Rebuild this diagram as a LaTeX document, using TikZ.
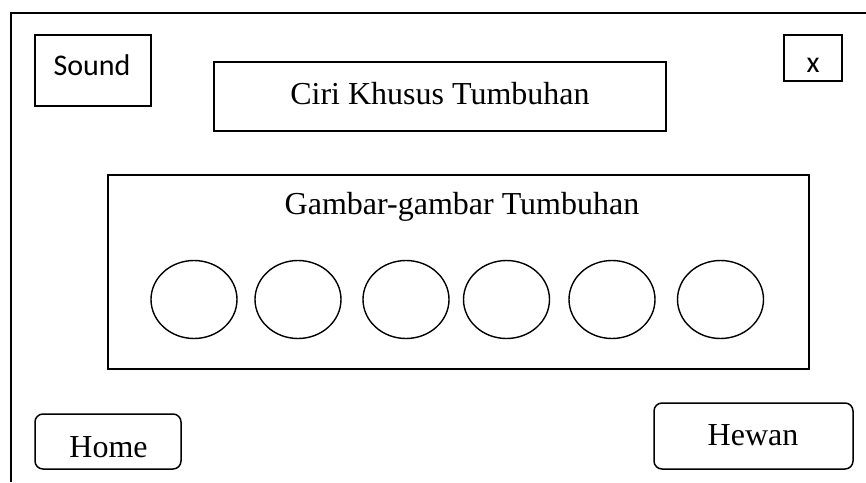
\documentclass[tikz,border=0pt]{standalone}
\usepackage{fontspec}
\setmainfont{Liberation Serif}
\newfontfamily\calib{Carlito}
\usetikzlibrary{shapes.geometric}
\tikzset{
  frame/.style={draw, line width=1.5pt},
  box/.style={draw, line width=1.5pt, rectangle, inner sep=0pt},
  button/.style={box, rounded corners=8pt},
  pic/.style={draw, line width=1.4pt, ellipse, inner sep=0pt,
              minimum width=86pt, minimum height=78pt},
  serif/.style={anchor=base, inner sep=0pt, font=\fontsize{32}{36}\selectfont},
  sans/.style={anchor=base, inner sep=0pt, font=\calib\fontsize{30}{34}\selectfont},
}
\begin{document}
\begin{tikzpicture}[x=1pt,y=-1pt]
\useasboundingbox (0,0) rectangle (866,482);
% outer window edge (top and left only)
\coordinate (tr) at (866,13);
\coordinate (tl) at (11,13);
\coordinate (bl) at (11,482);
\draw[frame] (tr) -- (tl) -- (bl);

% top bar
\node[box, minimum width=116pt, minimum height=71pt] (sound) at (93,70.5) {};
\node[sans] (soundtxt) at (92,75) {Sound};
\node[box, minimum width=58pt, minimum height=46pt] (close) at (813,58) {};
\node[sans] (closetxt) at (813,72) {x};
\node[box, minimum width=452pt, minimum height=69pt] (title) at (440,96.5) {};
\node[serif] (titletxt) at (440,104) {Ciri Khusus Tumbuhan};

% picture panel
\node[box, minimum width=701pt, minimum height=194pt] (panel) at (458.5,272) {};
\node[serif] (paneltxt) at (462,214) {Gambar-gambar Tumbuhan};
\foreach \i/\x in {1/194,2/298,3/406,4/506.5,5/612,6/720.5}
  \node[pic] (p\i) at (\x,299.5) {};

% navigation buttons
\node[button, minimum width=146pt, minimum height=55pt] (home) at (108,441.5) {};
\node[serif] (hometxt) at (108.5,457) {Home};
\node[button, minimum width=199pt, minimum height=66pt] (hewan) at (753.5,436) {};
\node[serif] (hewantxt) at (753,445) {Hewan};
\end{tikzpicture}
\end{document}
